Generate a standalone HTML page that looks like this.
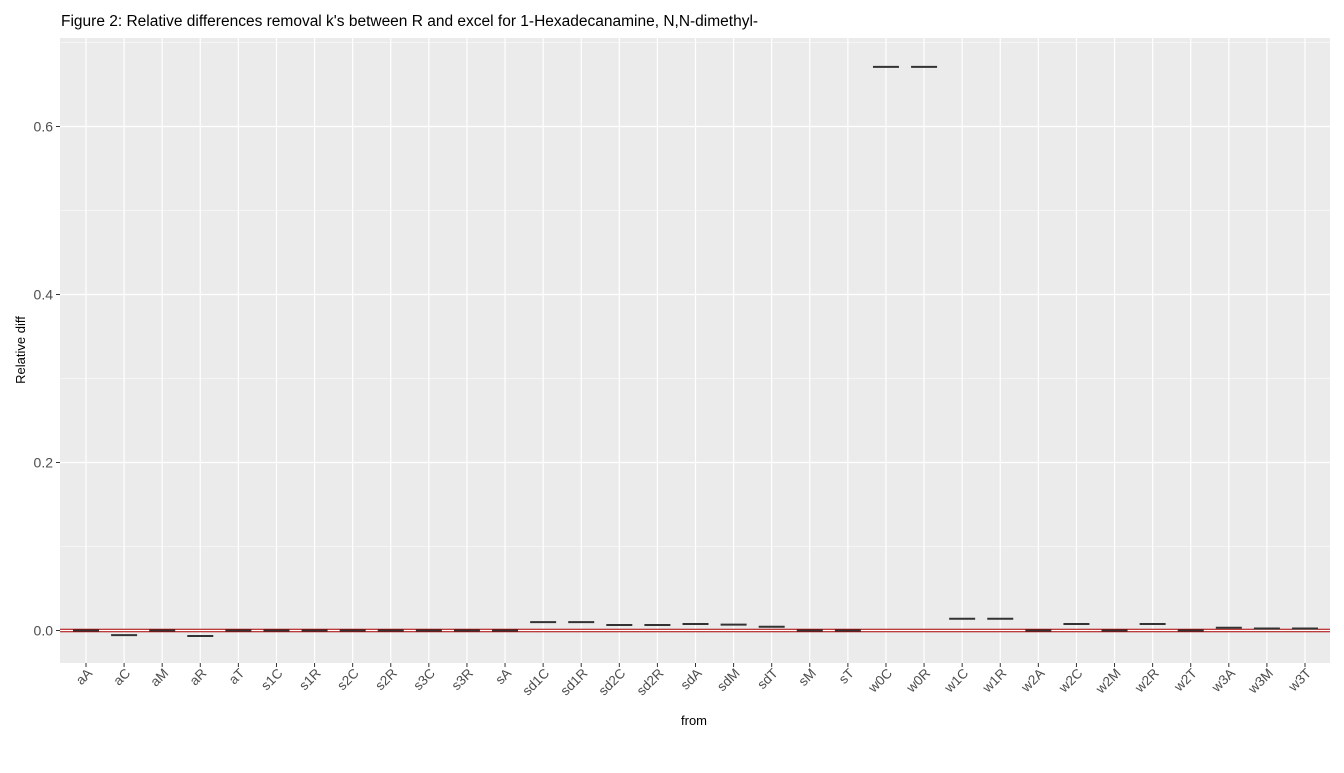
<!DOCTYPE html>
<html><head><meta charset="utf-8"><style>
body{margin:0;background:#fff;font-family:"Liberation Sans",Arial,sans-serif}
</style></head><body>
<svg width="1344" height="768" id="svg" xmlns="http://www.w3.org/2000/svg">
<text x="61" y="26" font-size="15.5" fill="#000">Figure 2: Relative differences removal k's between R and excel for 1-Hexadecanamine, N,N-dimethyl-</text>
<rect x="60" y="38" width="1270" height="625" fill="#ebebeb"/>
<g id="grid"></g><g id="marks"></g><g id="axes"></g>
<text x="694" y="725" font-size="13" text-anchor="middle" fill="#000">from</text>
<text transform="translate(25,350) rotate(-90)" font-size="13" text-anchor="middle" fill="#000">Relative diff</text>
</svg>
<script>
const categories=["aA","aC","aM","aR","aT","s1C","s1R","s2C","s2R","s3C","s3R","sA","sd1C","sd1R","sd2C","sd2R","sdA","sdM","sdT","sM","sT","w0C","w0R","w1C","w1R","w2A","w2C","w2M","w2R","w2T","w3A","w3M","w3T"];
const values=[0,-0.0055,0,-0.0065,0,0,0,0,0,0,0,0,0.010,0.010,0.0066,0.0066,0.0077,0.007,0.0045,0,0,0.671,0.671,0.014,0.014,0,0.0077,0,0.0077,0,0.0033,0.0024,0.0024];
const yTicks=[0,0.2,0.4,0.6];
const yTickLabels=["0.0","0.2","0.4","0.6"];
const NS="http://www.w3.org/2000/svg";
const x0=86,x1=1305;
function xs(i){return x0+(x1-x0)*i/(categories.length-1);}
function ys(v){return 630.5-v*840;}
const grid=document.getElementById('grid'),marks=document.getElementById('marks'),axes=document.getElementById('axes');
function mk(t,a,p){const e=document.createElementNS(NS,t);for(const k in a)e.setAttribute(k,a[k]);p.appendChild(e);return e;}
for(let k=0;k<yTicks.length-1;k++){const v=(yTicks[k]+yTicks[k+1])/2;
const l=mk('line',{x1:60,x2:1330,y1:ys(v),y2:ys(v),stroke:'#fff','stroke-width':0.6},grid);

}
{const v=0.7;const l=mk('line',{x1:60,x2:1330,y1:ys(v),y2:ys(v),stroke:'#fff','stroke-width':0.6},grid);

}
yTicks.forEach((v,k)=>{const y=ys(v);
const l=mk('line',{x1:60,x2:1330,y1:y,y2:y,stroke:'#fff','stroke-width':1.2},grid);


mk('line',{x1:56,x2:60,y1:y,y2:y,stroke:'#333','stroke-width':1},axes);
const t=mk('text',{x:53,y:y+5,'font-size':14,'text-anchor':'end',fill:'#4d4d4d'},axes);t.textContent=yTickLabels[k];

});
categories.forEach((c,i)=>{const x=xs(i);
const g=mk('line',{x1:x,x2:x,y1:38,y2:663,stroke:'#fff','stroke-width':1.2},grid);


mk('line',{x1:x,x2:x,y1:663,y2:667,stroke:'#333','stroke-width':1},axes);
const t=mk('text',{transform:`translate(${x+7},${674}) rotate(-45)`,'font-size':13.5,'text-anchor':'end',fill:'#4d4d4d'},axes);t.textContent=c;

});
mk('line',{x1:60,x2:1330,y1:629.3,y2:629.3,stroke:'#a00','stroke-width':1},marks);
mk('line',{x1:60,x2:1330,y1:631.7,y2:631.7,stroke:'#a00','stroke-width':1},marks);
categories.forEach((c,i)=>{const x=xs(i),y=ys(values[i]);
const b=mk('line',{x1:x-13,x2:x+13,y1:y,y2:y,stroke:'#333','stroke-width':2},marks);

});
</script>
</body></html>
